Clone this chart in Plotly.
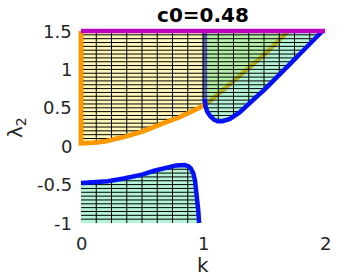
import numpy as np
import plotly.graph_objects as go

# ---------------- data ----------------
TITLE = "c0=0.48"
X_LABEL = "k"
Y_LABEL = "λ<sub>2</sub>"
X_LIM = [0, 2]
Y_LIM = [-1, 1.5]
X_TICKS = [0, 1, 2]
X_TICK_TEXT = ["0", "1", "2"]
Y_TICKS = [-1, -0.5, 0, 0.5, 1, 1.5]
Y_TICK_TEXT = ["-1", "-0.5", "0", "0.5", "1", "1.5"]

# orange boundary: the yellow region lies above it
ORANGE_K = [0, 0, 0.10, 0.20, 0.36, 0.50, 0.65, 0.81, 0.97, 1.05, 1.125, 1.30, 1.50, 1.70]
ORANGE_L = [1.5, 0.04, 0.045, 0.065, 0.125, 0.19, 0.285, 0.38, 0.50, 0.58, 0.68, 0.92, 1.19, 1.50]

# upper blue boundary: the upper green region lies above / right of it
BLUE_UP_K = [1.016, 1.016, 1.02, 1.035, 1.06, 1.09, 1.12, 1.16, 1.22, 1.30, 1.37, 1.45,
             1.50, 1.60, 1.70, 1.80, 1.90, 1.98]
BLUE_UP_L = [1.5, 0.62, 0.52, 0.45, 0.39, 0.345, 0.325, 0.325, 0.355, 0.44, 0.55, 0.66,
             0.73, 0.88, 1.05, 1.21, 1.37, 1.50]

# lower blue boundary: the lower green region lies below it
BLUE_LO_K = [0, 0.10, 0.22, 0.35, 0.50, 0.60, 0.70, 0.78, 0.85, 0.88, 0.90, 0.92, 0.935,
             0.945, 0.955, 0.962, 0.968]
BLUE_LO_L = [-0.48, -0.475, -0.455, -0.42, -0.37, -0.32, -0.275, -0.25, -0.245, -0.26,
             -0.29, -0.35, -0.45, -0.58, -0.72, -0.85, -1.0]

# magenta line along the top
TOP_K = [0, 2]
TOP_L = [1.5, 1.5]

# hatching mesh of the shaded cells
MESH_K = list(np.round(np.arange(0.125, 2.0, 0.125), 3))
MESH_L = list(np.round(np.arange(-0.95, 1.5, 0.05), 3))

# ---------------- styles ----------------
ORANGE = "#ff9800"
BLUE = "#0512f5"
BLUE_FADED = "#5a66c6"
MAGENTA = "#c000c0"
YELLOW_FILL = "rgba(255,232,22,0.3)"
GREEN_FILL = "rgba(5,222,122,0.3)"
AX = "#262626"
GRID = "#dedede"
FONT = "DejaVu Sans"
TICK_SIZE = 18
LABEL_SIZE = 20
LW = 4.5

W, H = 359, 279
BOX_L, BOX_R, BOX_T, BOX_B = 81, 325, 31, 223
PAD = 10
YTICK_RIGHT_PX = 74      # right edge of y tick labels
XTICK_TOP_PX = 231       # top of x tick label boxes
XLABEL_PX = 265          # centre of x axis title
YLABEL_PX = (16, 128)    # centre of y axis title

# ---------------- derived geometry ----------------
ok, ol = np.array(ORANGE_K[1:]), np.array(ORANGE_L[1:])
buk, bul = np.array(BLUE_UP_K[1:]), np.array(BLUE_UP_L[1:])
blk, bll = np.array(BLUE_LO_K), np.array(BLUE_LO_L)


def bound(k, xp, fp, outside):
    k = np.asarray(k, float)
    return np.where((k >= xp[0]) & (k <= xp[-1]), np.interp(k, xp, fp), outside)


def inside(k, l):
    top = TOP_L[0]
    up = (l <= top) & ((l >= bound(k, ok, ol, np.inf)) | (l >= bound(k, buk, bul, np.inf)))
    lo = (l >= Y_LIM[0]) & (l <= bound(k, blk, bll, -np.inf))
    return up | lo


def runs(vals, mask):
    m = np.concatenate([[0], mask.astype(int), [0]])
    idx = np.flatnonzero(np.diff(m))
    out = []
    for s, e in zip(idx[::2], idx[1::2]):
        if e - s >= 2:
            out.append((float(vals[s]), float(vals[e - 1])))
    return out


mx, my = [], []
ks = np.linspace(X_LIM[0], X_LIM[1], 4001)
for l in MESH_L:
    for a, b in runs(ks, inside(ks, l)):
        mx += [a, b, None]
        my += [float(l), float(l), None]
ls = np.linspace(Y_LIM[0], Y_LIM[1], 5001)
for k in MESH_K:
    for a, b in runs(ls, inside(np.full_like(ls, k), ls)):
        mx += [float(k), float(k), None]
        my += [a, b, None]

kc = BLUE_UP_K[0]
bright_k = [k for k in ORANGE_K if k < kc] + [kc]
bright_l = ORANGE_L[:len(bright_k) - 1] + [float(np.interp(kc, ok, ol))]

lo_poly_k = BLUE_LO_K + [X_LIM[0]]
lo_poly_l = BLUE_LO_L + [Y_LIM[0]]

ml, mr, mt, mb = BOX_L - PAD, W - BOX_R - PAD, BOX_T - PAD, H - BOX_B - PAD
pw, ph = W - ml - mr, H - mt - mb
xdom = [PAD / pw, 1 - PAD / pw]
ydom = [PAD / ph, 1 - PAD / ph]
kpp = (X_LIM[1] - X_LIM[0]) / (BOX_R - BOX_L)
lpp = (Y_LIM[1] - Y_LIM[0]) / (BOX_B - BOX_T)
x2range = [X_LIM[0] - PAD * kpp, X_LIM[1] + PAD * kpp]
y2range = [Y_LIM[0] - PAD * lpp, Y_LIM[1] + PAD * lpp]


def px_x(p):
    return (p - ml) / pw


def px_y(p):
    return (H - mb - p) / ph


fig = go.Figure()
common = dict(xaxis="x2", yaxis="y2", showlegend=False, hoverinfo="skip")

fig.add_trace(go.Scatter(x=[None], y=[None], xaxis="x", yaxis="y", showlegend=False))
# orange curve under the translucent fills (shows olive where shaded)
fig.add_trace(go.Scatter(x=ORANGE_K, y=ORANGE_L, mode="lines",
                         line=dict(color=ORANGE, width=LW), **common))
# translucent shaded regions
fig.add_trace(go.Scatter(x=ORANGE_K, y=ORANGE_L, mode="lines", fill="toself",
                         fillcolor=YELLOW_FILL, line=dict(width=0), **common))
fig.add_trace(go.Scatter(x=BLUE_UP_K, y=BLUE_UP_L, mode="lines", fill="toself",
                         fillcolor=GREEN_FILL, line=dict(width=0), **common))
fig.add_trace(go.Scatter(x=lo_poly_k, y=lo_poly_l, mode="lines", fill="toself",
                         fillcolor=GREEN_FILL, line=dict(width=0), **common))
# faded vertical part of the blue boundary (inside the shading)
fig.add_trace(go.Scatter(x=BLUE_UP_K[:2], y=BLUE_UP_L[:2], mode="lines",
                         line=dict(color=BLUE_FADED, width=LW), **common))
# mesh
fig.add_trace(go.Scatter(x=mx, y=my, mode="lines",
                         line=dict(color="#000000", width=1), **common))
# boundary curves on top
fig.add_trace(go.Scatter(x=bright_k, y=bright_l, mode="lines",
                         line=dict(color=ORANGE, width=LW), **common))
fig.add_trace(go.Scatter(x=BLUE_UP_K[1:], y=BLUE_UP_L[1:], mode="lines",
                         line=dict(color=BLUE, width=LW), **common))
fig.add_trace(go.Scatter(x=BLUE_LO_K, y=BLUE_LO_L, mode="lines",
                         line=dict(color=BLUE, width=LW), **common))
fig.add_trace(go.Scatter(x=TOP_K, y=TOP_L, mode="lines",
                         line=dict(color=MAGENTA, width=LW), **common))

axis_common = dict(ticks="inside", ticklen=3, tickcolor=AX, tickwidth=1,
                   showline=True, linecolor=AX, linewidth=1, mirror="ticks",
                   showgrid=True, gridcolor=GRID, gridwidth=1, zeroline=False,
                   showticklabels=False, automargin=False)

tick_font = dict(family=FONT, size=TICK_SIZE, color=AX)
annotations = []
for v, t in zip(Y_TICKS, Y_TICK_TEXT):
    annotations.append(dict(text=t, xref="paper", x=px_x(YTICK_RIGHT_PX), xanchor="right",
                            yref="y", y=v, yanchor="middle", showarrow=False,
                            font=tick_font))
for v, t in zip(X_TICKS, X_TICK_TEXT):
    annotations.append(dict(text=t, xref="x", x=v, xanchor="center",
                            yref="paper", y=px_y(XTICK_TOP_PX), yanchor="top",
                            showarrow=False, font=tick_font))
annotations.append(dict(text=X_LABEL, xref="x", x=(X_LIM[0] + X_LIM[1]) / 2,
                        yref="paper", y=px_y(XLABEL_PX), xanchor="center",
                        yanchor="middle", showarrow=False,
                        font=dict(family=FONT, size=LABEL_SIZE, color=AX)))
annotations.append(dict(text=Y_LABEL, xref="paper", x=px_x(YLABEL_PX[0]),
                        yref="paper", y=px_y(YLABEL_PX[1]), xanchor="center",
                        yanchor="middle", textangle=-90, showarrow=False,
                        font=dict(family=FONT, size=LABEL_SIZE, color=AX)))

fig.update_layout(
    width=W, height=H,
    margin=dict(l=ml, r=mr, t=mt, b=mb, pad=0),
    paper_bgcolor="#ffffff", plot_bgcolor="#ffffff",
    font=dict(family=FONT, size=TICK_SIZE, color=AX),
    title=dict(text="<b>" + TITLE + "</b>", x=0.5, xref="paper", xanchor="center",
               y=1 - 15 / H, yref="container", yanchor="middle",
               font=dict(family=FONT, size=20, color="#000000")),
    xaxis=dict(domain=xdom, range=X_LIM, tickvals=X_TICKS, anchor="y", **axis_common),
    yaxis=dict(domain=ydom, range=Y_LIM, tickvals=Y_TICKS, anchor="x", **axis_common),
    xaxis2=dict(domain=[0, 1], range=x2range, anchor="y2", visible=False),
    yaxis2=dict(domain=[0, 1], range=y2range, anchor="x2", visible=False),
    annotations=annotations,
)

fig.write_html("out.html",
               config={"displayModeBar": False, "staticPlot": True},
               post_script="document.body.style.margin='0px';"
                           "document.body.style.overflow='hidden';")
